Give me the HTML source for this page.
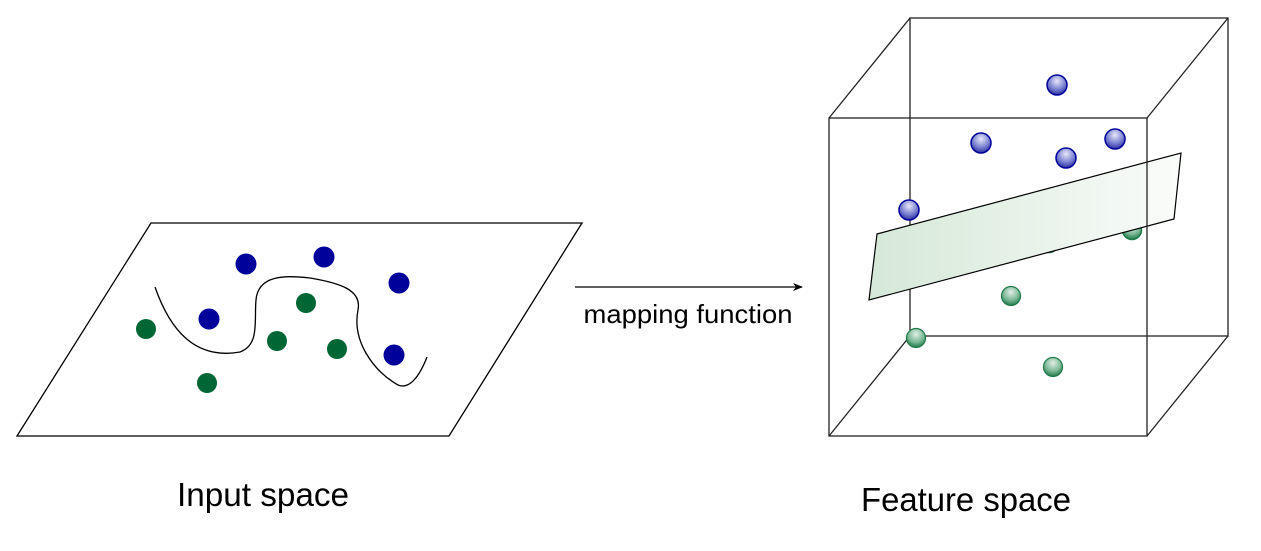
<!DOCTYPE html>
<html><head><meta charset="utf-8"><style>body{margin:0;background:#fff}svg{display:block}</style></head><body>
<svg width="1261" height="551" viewBox="0 0 1261 551" xmlns="http://www.w3.org/2000/svg">
<defs>
<radialGradient id="bs" cx="0.5" cy="0.3" r="0.7"><stop offset="0" stop-color="#e6e8f8"/><stop offset="0.6" stop-color="#7a80d0"/><stop offset="1" stop-color="#2a2fa0"/></radialGradient>
<radialGradient id="gs" cx="0.5" cy="0.3" r="0.7"><stop offset="0" stop-color="#e0efe6"/><stop offset="0.6" stop-color="#7cb896"/><stop offset="1" stop-color="#1f7a4a"/></radialGradient>
<linearGradient id="pl" x1="0" y1="0" x2="1" y2="0"><stop offset="0" stop-color="#d5e8d8"/><stop offset="1" stop-color="#fafcfa"/></linearGradient>
<marker id="ah" markerWidth="10" markerHeight="8" refX="9" refY="4" orient="auto" markerUnits="userSpaceOnUse"><path d="M0,0 L10,4 L0,8 L3,4 z" fill="#000"/></marker>
</defs>
<polygon points="151,223 582,223 449,436 17,436" fill="none" stroke="#000" stroke-width="1.3"/>
<path d="M155,287 C170,330 195,360 240,352 C260,345 254,320 256,300 C258,275 285,275 310,278 C340,283 362,290 358,310 C352,340 372,370 398,385 C410,390 420,375 427,357" fill="none" stroke="#000" stroke-width="1.3"/>
<g fill="#00009a"><circle cx="246" cy="264" r="10.5"/><circle cx="324" cy="257" r="10.5"/><circle cx="399" cy="283" r="10.5"/><circle cx="209" cy="319" r="10.5"/><circle cx="394" cy="355" r="10.5"/></g>
<g fill="#006633"><circle cx="146" cy="329" r="10"/><circle cx="306" cy="303" r="10"/><circle cx="277" cy="341" r="10"/><circle cx="337" cy="349" r="10"/><circle cx="207" cy="383" r="10"/></g>
<line x1="575" y1="287" x2="802" y2="287" stroke="#000" stroke-width="1.2" marker-end="url(#ah)"/>
<text x="688" y="323" font-family="Liberation Sans, sans-serif" font-size="26" text-anchor="middle" textLength="209" lengthAdjust="spacingAndGlyphs">mapping function</text>
<text x="263" y="506" font-family="Liberation Sans, sans-serif" font-size="33" text-anchor="middle" textLength="172" lengthAdjust="spacingAndGlyphs">Input space</text>
<text x="966" y="511" font-family="Liberation Sans, sans-serif" font-size="33" text-anchor="middle" textLength="210" lengthAdjust="spacingAndGlyphs">Feature space</text>
<g fill="none" stroke="#222" stroke-width="1.3">
<rect x="910" y="18" width="318" height="318"/>
<line x1="829" y1="118" x2="910" y2="18"/><line x1="1147" y1="118" x2="1228" y2="18"/>
<line x1="829" y1="436" x2="910" y2="336"/><line x1="1147" y1="436" x2="1228" y2="336"/>
</g>
<g stroke-width="1.5">
<circle cx="1049" cy="243" r="9.5" fill="url(#gs)" stroke="#1f7a4a"/><circle cx="1132" cy="230" r="9.5" fill="url(#gs)" stroke="#1f7a4a"/>
<circle cx="1057" cy="85" r="10" fill="url(#bs)" stroke="#00009a"/><circle cx="981" cy="143" r="10" fill="url(#bs)" stroke="#00009a"/><circle cx="1066" cy="158" r="10" fill="url(#bs)" stroke="#00009a"/><circle cx="1115" cy="139" r="10" fill="url(#bs)" stroke="#00009a"/><circle cx="909" cy="210" r="10" fill="url(#bs)" stroke="#00009a"/>
</g>
<polygon points="877,234 1181,153 1174,219 869,300" fill="url(#pl)" stroke="#000" stroke-width="1.2"/>
<rect x="829" y="118" width="318" height="318" fill="none" stroke="#222" stroke-width="1.3"/>
<g stroke="#1f7a4a" stroke-width="1.2">
<circle cx="1011" cy="296" r="9.5" fill="url(#gs)"/><circle cx="916" cy="338" r="9.5" fill="url(#gs)"/><circle cx="1053" cy="367" r="9.5" fill="url(#gs)"/>
</g>
</svg>
</body></html>
